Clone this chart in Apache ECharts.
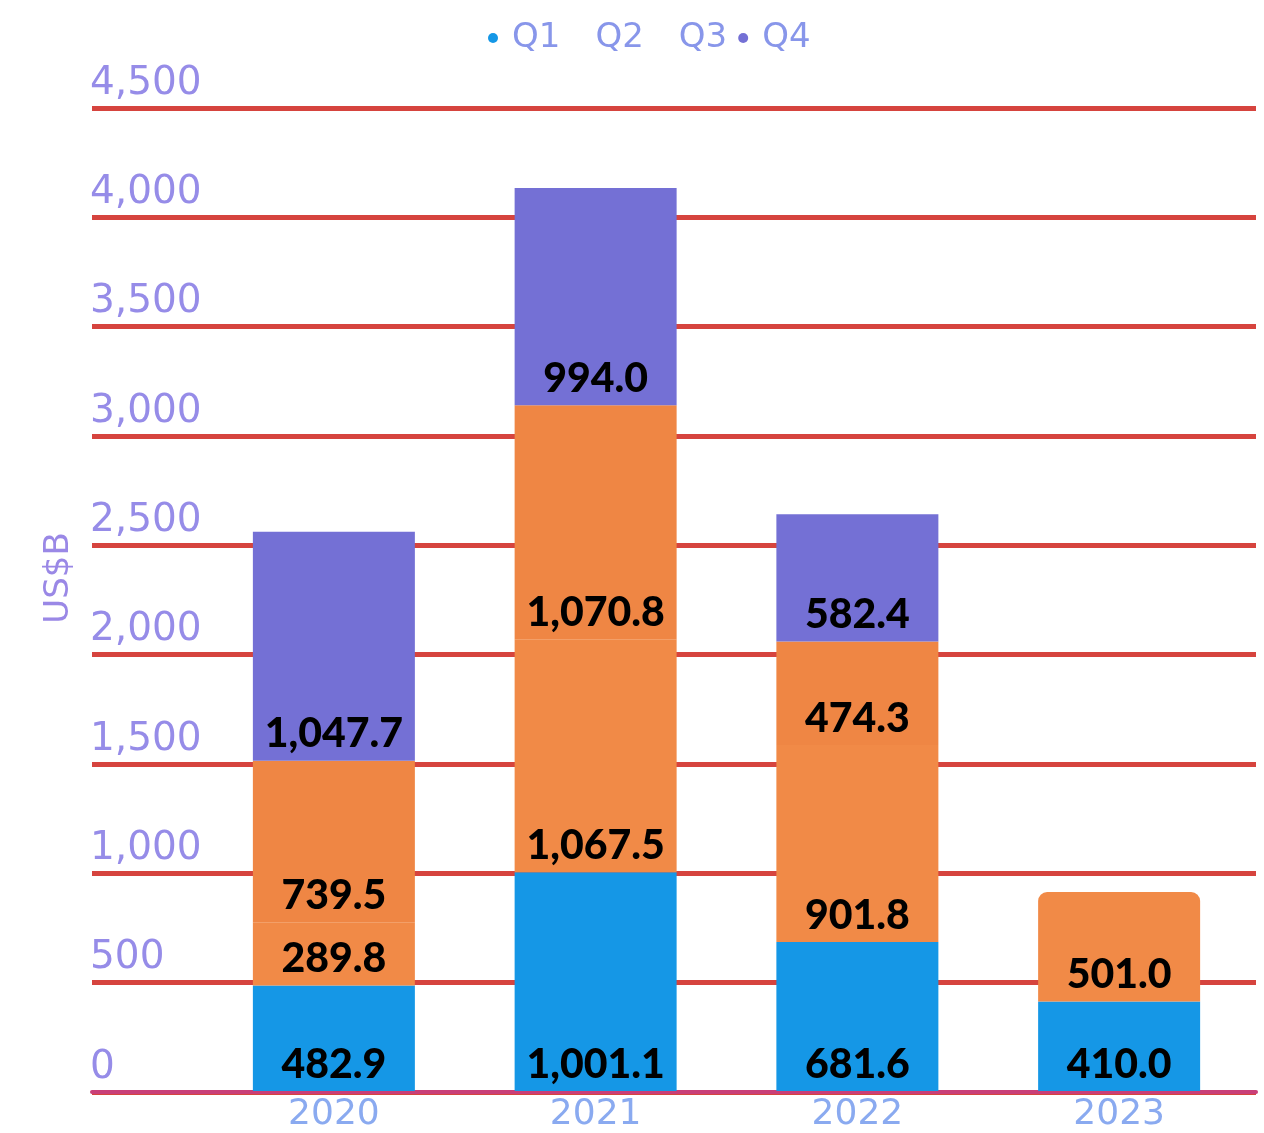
<!DOCTYPE html>
<html>
<head>
<meta charset="utf-8">
<script src="https://cdn.jsdelivr.net/npm/echarts@6/dist/echarts.min.js"></script>
<style>
  html, body { margin: 0; padding: 0; background: #ffffff; }
  #chart { width: 1264px; height: 1133px; }
</style>
</head>
<body>
<div id="chart"></div>
<script>
// Quarterly values, US$ billions
const years = ['2020', '2021', '2022', '2023'];
const q1 = [482.9, 1001.1, 681.6, 410.0];
const q2 = [289.8, 1067.5, 901.8, 501.0];
const q3 = [739.5, 1070.8, 474.3, null];
const q4 = [1047.7, 994.0, 582.4, null];
const quarterNames = ['Q1', 'Q2', 'Q3', 'Q4'];
const yMin = 0, yMax = 4500, yStep = 500;

const colors = ['#1597e6', '#f18a47', '#ef8644', '#7470d5'];
const fontThin = '"DejaVu Sans", sans-serif';
const fontBold = 'Lato, Inter, "Noto Sans", sans-serif';

const fmt = v => Number(v).toLocaleString('en-US', { minimumFractionDigits: 1, maximumFractionDigits: 1 });

const valueLabel = {
  show: true,
  position: 'insideBottom',
  distance: 6,
  color: '#000000',
  fontFamily: fontBold,
  fontWeight: 900,
  fontSize: 41,
  textShadowColor: 'rgba(190,70,200,0.75)',
  textShadowOffsetX: 2,
  textShadowOffsetY: 2,
  textShadowBlur: 0,
  formatter: p => (p.value == null ? '' : fmt(p.value))
};

function makeSeries(name, values, color, idx) {
  return {
    name: name,
    type: 'bar',
    stack: 'total',
    xAxisIndex: 1,
    yAxisIndex: 1,
    barWidth: 162,
    itemStyle: { color: color },
    label: valueLabel,
    data: values.map((v, i) => {
      // the highest segment of the 2023 column has softened top corners
      if (idx === 1 && i === 3) {
        return { value: v, itemStyle: { borderRadius: [9, 9, 0, 0] } };
      }
      return v;
    })
  };
}

const chart = echarts.init(document.getElementById('chart'), null, { renderer: 'canvas' });

chart.setOption({
  backgroundColor: '#ffffff',
  animation: false,
  legend: {
    top: 16,
    left: 483,
    itemWidth: 10,
    itemHeight: 10,
    itemGap: 11,
    textStyle: {
      color: '#8896ea',
      fontFamily: fontThin,
      fontWeight: 'normal',
      fontSize: 34,
      padding: [0, 0, 0, 9]
    },
    data: [
      { name: 'Q1', icon: 'circle', itemStyle: { color: colors[0] } },
      { name: 'Q2', icon: 'circle', itemStyle: { opacity: 0 } },
      { name: 'Q3', icon: 'circle', itemStyle: { opacity: 0 } },
      { name: 'Q4', icon: 'circle', itemStyle: { color: colors[3] } }
    ]
  },
  grid: [
    { left: 92, right: 8, top: 108, bottom: 41 },
    { left: 203, right: 14, top: 108, bottom: 41 }
  ],
  xAxis: [
    {
      gridIndex: 0,
      type: 'category',
      data: [''],
      axisLine: { show: true, lineStyle: { color: '#c93f78', width: 4 } },
      axisTick: { show: false },
      axisLabel: { show: false }
    },
    {
      gridIndex: 1,
      type: 'category',
      data: years,
      axisLine: { show: false },
      axisTick: { show: false },
      axisLabel: {
        color: '#8aaaf0',
        fontFamily: fontThin,
        fontWeight: 'normal',
        fontSize: 36,
        margin: 6
      }
    }
  ],
  yAxis: [
    {
      gridIndex: 0,
      type: 'value',
      min: yMin,
      max: yMax,
      interval: yStep,
      name: 'US$B',
      nameLocation: 'middle',
      nameGap: 16,
      nameRotate: 90,
      nameTextStyle: {
        color: '#9a88e6',
        fontFamily: fontThin,
        fontWeight: 'normal',
        fontSize: 34,
        padding: [0, 0, 0, 44]
      },
      axisLine: { show: false },
      axisTick: { show: false },
      axisLabel: {
        inside: true,
        margin: -2,
        align: 'left',
        verticalAlign: 'bottom',
        padding: [0, 0, 5, 0],
        color: '#968ce8',
        fontFamily: fontThin,
        fontWeight: 'normal',
        fontSize: 39,
        formatter: v => Number(v).toLocaleString('en-US')
      },
      splitLine: { show: true, lineStyle: { color: '#d6443e', width: 5 } }
    },
    {
      gridIndex: 1,
      type: 'value',
      min: yMin,
      max: yMax,
      interval: yStep,
      show: false,
      splitLine: { show: false }
    }
  ],
  series: [
    makeSeries(quarterNames[0], q1, colors[0], 0),
    makeSeries(quarterNames[1], q2, colors[1], 1),
    makeSeries(quarterNames[2], q3, colors[2], 2),
    makeSeries(quarterNames[3], q4, colors[3], 3)
  ]
});
</script>
</body>
</html>
